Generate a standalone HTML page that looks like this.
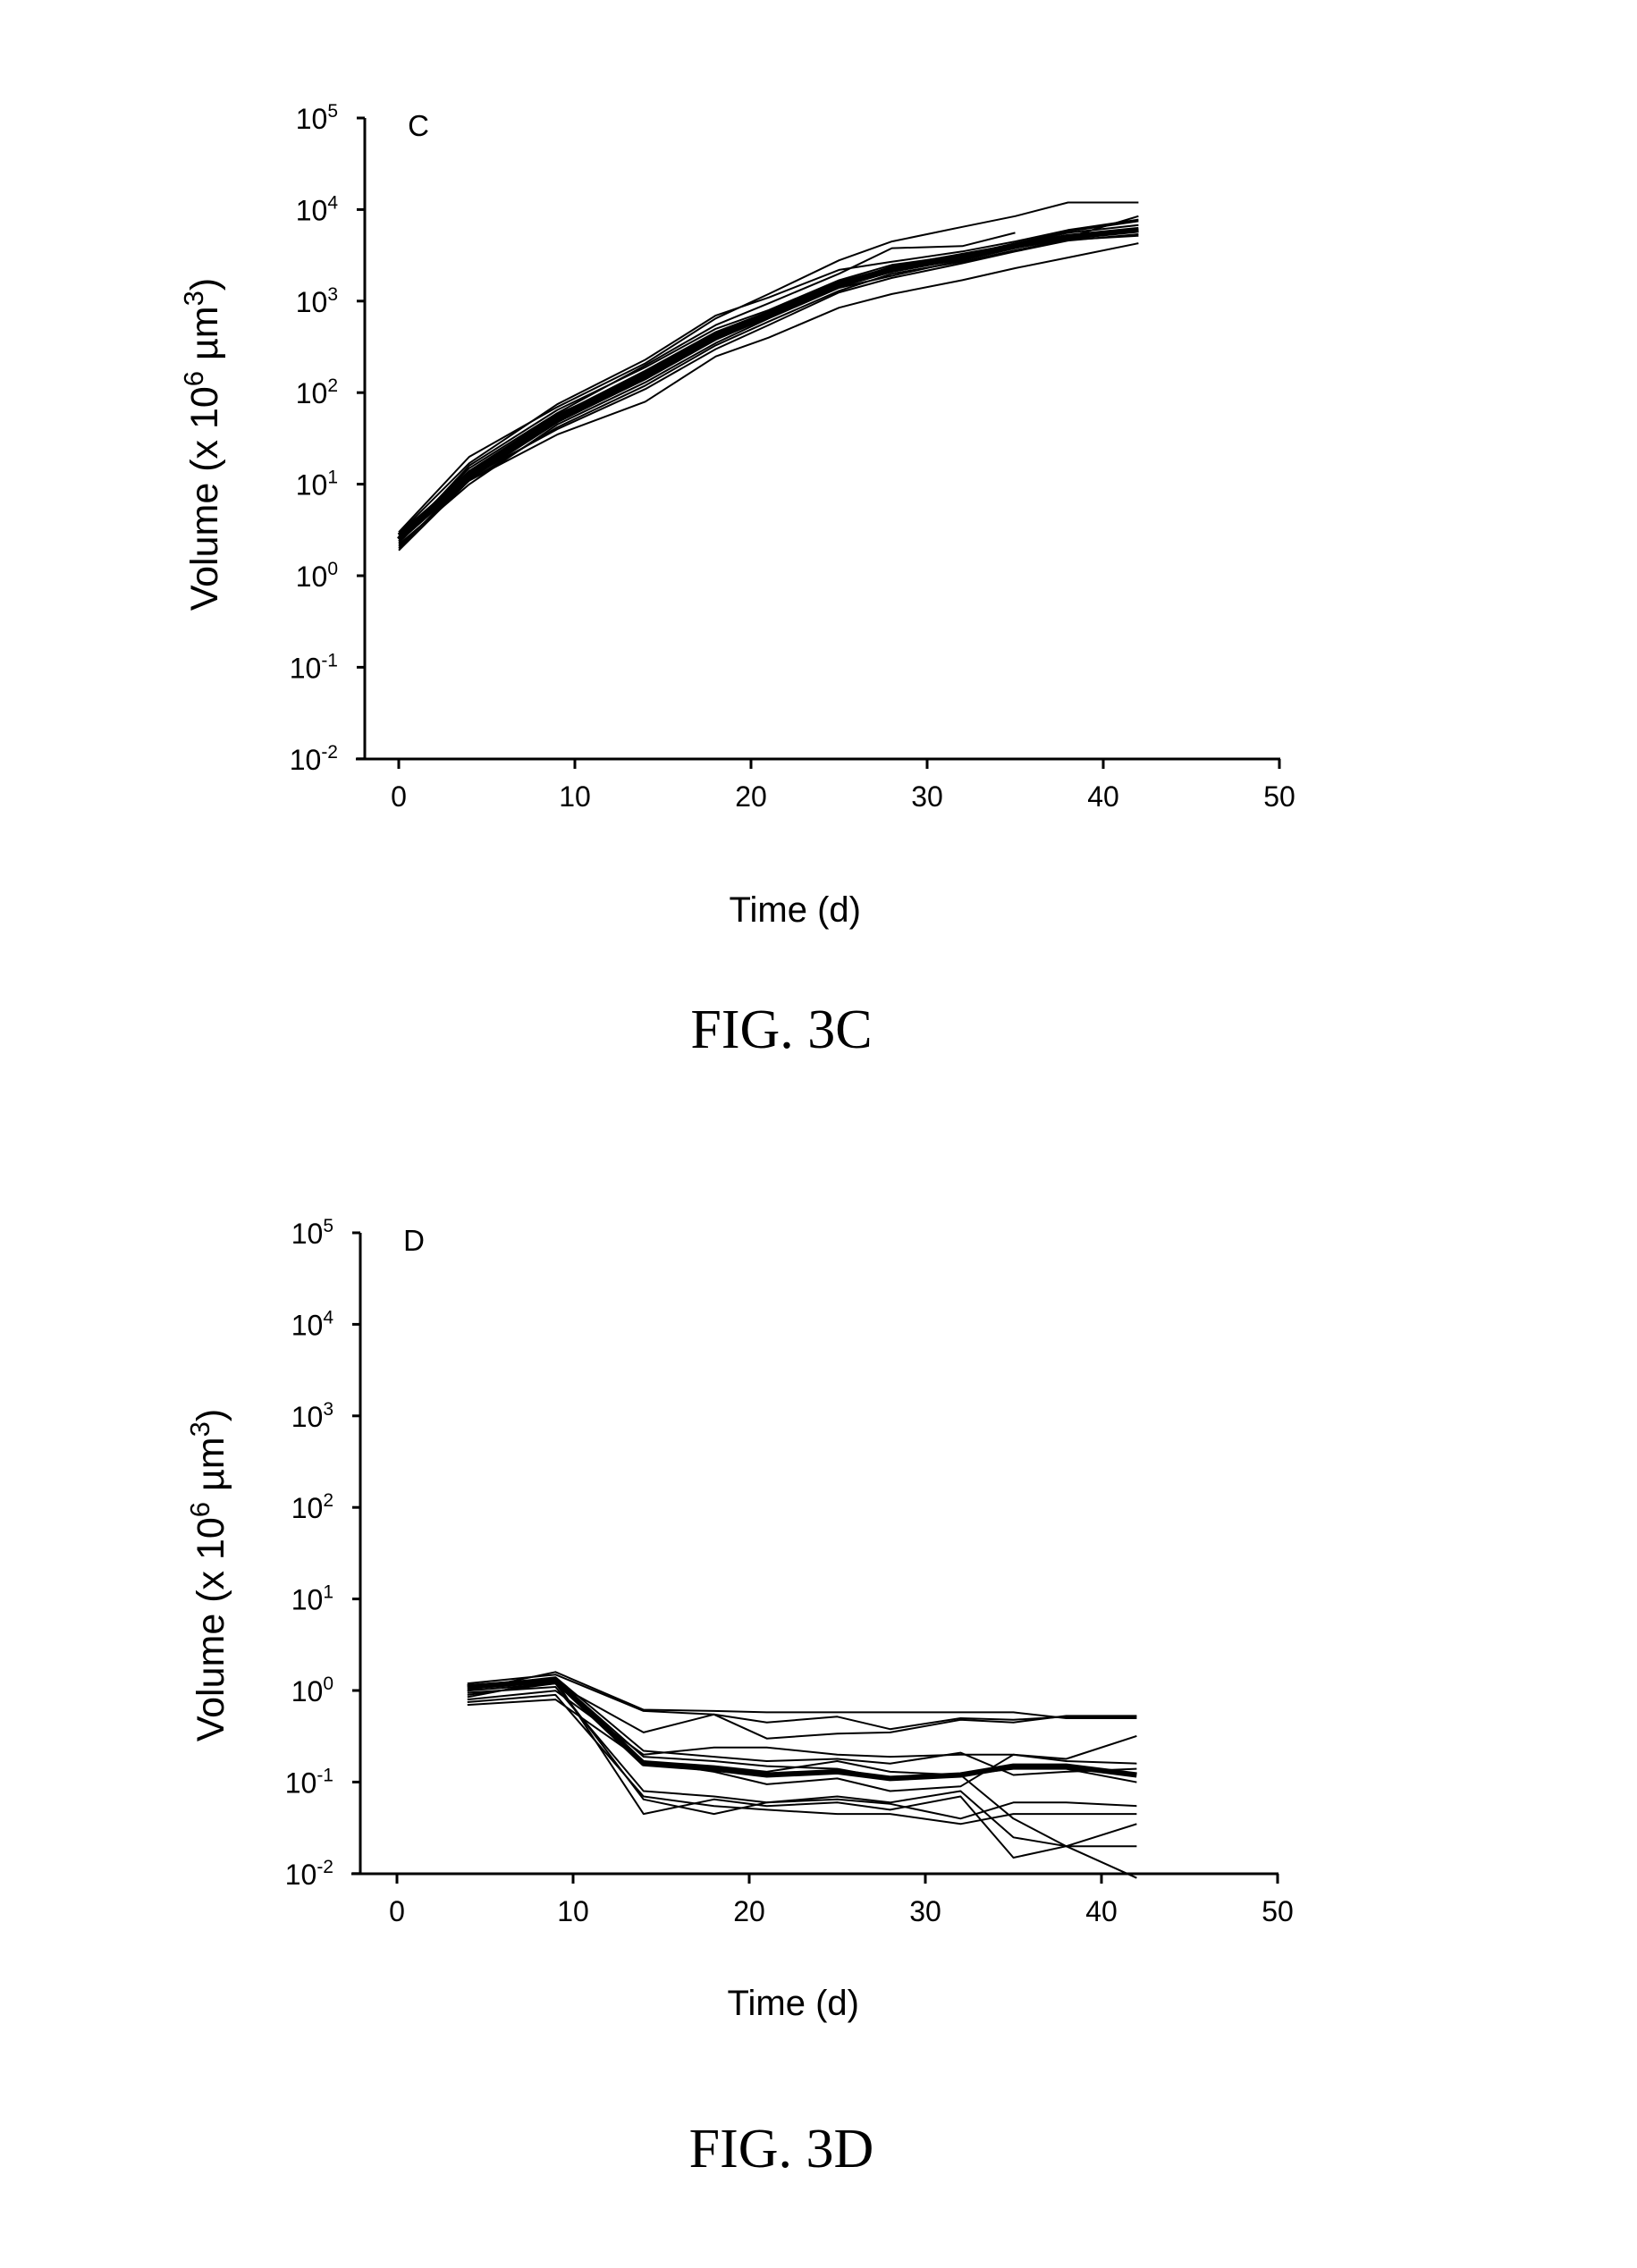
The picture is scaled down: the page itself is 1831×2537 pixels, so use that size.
<!DOCTYPE html>
<html><head><meta charset="utf-8"><style>
body{margin:0;background:#fff}
svg{display:block}
text{font-family:"Liberation Sans",Arial,sans-serif;fill:#000}
.serif{font-family:"Liberation Serif","Times New Roman",serif}
</style></head><body>
<svg id="s" width="1831" height="2537" viewBox="0 0 1831 2537" xmlns="http://www.w3.org/2000/svg">
<rect width="1831" height="2537" fill="#fff"/>
<g id="C"></g>
<g id="D"></g>
</svg>
<script>
const NS="http://www.w3.org/2000/svg";
function el(p,tag,attrs,txt){const e=document.createElementNS(NS,tag);for(const k in attrs)e.setAttribute(k,attrs[k]);if(txt!==undefined)e.textContent=txt;p.appendChild(e);return e;}
function chart(g,top,ax,x0,letter,series,ylx,yly,tly){
  const bot=top+717, dec=102.4, xs=19.7;
  const X=t=>x0+xs*t, Y=v=>bot-dec*(Math.log10(v)+2);
  el(g,'line',{x1:ax,y1:top,x2:ax,y2:bot,stroke:'#000','stroke-width':3});
  el(g,'line',{x1:ax-10,y1:bot,x2:X(50)+1,y2:bot,stroke:'#000','stroke-width':3});
  for(let i=0;i<=7;i++){const y=top+i*dec;el(g,'line',{x1:ax-9,y1:y,x2:ax,y2:y,stroke:'#000','stroke-width':3});
    const t=el(g,'text',{x:ax-30,y:y+12,'font-size':32,'text-anchor':'end'});
    t.appendChild(document.createTextNode('10'));
    el(t,'tspan',{dy:-13,'font-size':21},String(5-i));}
  for(let i=0;i<=5;i++){const x=X(i*10);el(g,'line',{x1:x,y1:bot,x2:x,y2:bot+11,stroke:'#000','stroke-width':3});
    el(g,'text',{x:x,y:bot+53,'font-size':32,'text-anchor':'middle'},String(i*10));}
  el(g,'text',{x:ax+60,y:top+20,'font-size':33,'text-anchor':'middle'},letter);
  const yl=el(g,'text',{transform:`translate(${ylx},${yly}) rotate(-90)`,'font-size':43,'text-anchor':'middle'});
  yl.appendChild(document.createTextNode('Volume (x 10'));
  el(yl,'tspan',{dy:-16,'font-size':31},'6');
  el(yl,'tspan',{dy:16},' \u00b5m');
  el(yl,'tspan',{dy:-16,'font-size':31},'3');
  el(yl,'tspan',{dy:16},')');
  el(g,'text',{x:X(22.5),y:tly,'font-size':40,'text-anchor':'middle'},'Time (d)');
  for(const s of series){
    const pts=s.v.map((v,i)=>X(s.t[i]).toFixed(1)+','+Y(v).toFixed(1)).join(' ');
    el(g,'polyline',{points:pts,fill:'none',stroke:'#000','stroke-width':s.w||2,'stroke-linejoin':'round'});
  }
}
const tC=[0,4,9,14,18,21,25,28,32,35,38,42];
const C=[
 {t:tC,v:[2.5,12,50,150,400,700,1500,2200,3000,4000,5000,6000],w:6},
 {t:tC,v:[2.8,13,55,170,450,750,1600,2300,3100,4100,5200,6200],w:4},
 {t:tC,v:[1.9,11,35,80,250,400,850,1200,1700,2300,3000,4300]},
 {t:tC,v:[3,20,70,210,650,1200,2800,4500,6500,8500,12000,12000]},
 {t:[0,4,9,14,18,21,25,28,32,35],v:[2.6,15,60,200,550,950,2000,3800,4000,5600]},
 {t:tC,v:[2.2,10,45,130,350,650,1400,1900,2800,3800,5000,8500]},
 {t:tC,v:[2.4,16,65,190,500,800,1700,2500,3200,4300,5800,7500]},
 {t:tC,v:[2.0,12,40,110,300,550,1250,1800,2600,3500,4600,5400]},
 {t:tC,v:[2.7,14,58,160,420,720,1550,2400,3300,4200,5600,6800]},
 {t:tC,v:[2.3,13,48,140,380,680,1450,2100,2900,3900,4800,5800]},
 {t:tC,v:[2.9,17,75,230,700,1100,2200,2700,3500,4500,6000,7800]},
 {t:tC,v:[2.1,11,42,120,330,600,1300,2000,2700,3600,4700,5200]}
];
const tD=[4,9,14,18,21,25,28,32,35,38,42];
const D=[
 {t:tD,v:[1.1,1.3,0.16,0.14,0.12,0.13,0.11,0.12,0.15,0.15,0.12],w:6},
 {t:tD,v:[1.2,1.5,0.6,0.55,0.45,0.52,0.38,0.5,0.48,0.52,0.52]},
 {t:tD,v:[1.0,1.6,0.62,0.6,0.58,0.58,0.58,0.58,0.58,0.5,0.5]},
 {t:tD,v:[0.9,1.2,0.35,0.55,0.3,0.34,0.35,0.48,0.45,0.53,0.53]},
 {t:tD,v:[0.8,1.0,0.2,0.24,0.24,0.2,0.19,0.2,0.2,0.17,0.16]},
 {t:tD,v:[1.1,1.4,0.22,0.19,0.17,0.18,0.16,0.21,0.12,0.13,0.14]},
 {t:tD,v:[0.7,0.8,0.17,0.13,0.095,0.11,0.08,0.09,0.2,0.18,0.32]},
 {t:tD,v:[0.95,1.1,0.08,0.07,0.06,0.07,0.06,0.08,0.025,0.02,0.02]},
 {t:tD,v:[0.85,1.3,0.045,0.065,0.055,0.06,0.05,0.07,0.015,0.02,0.035]},
 {t:tD,v:[1.0,1.2,0.065,0.045,0.06,0.065,0.058,0.04,0.06,0.06,0.055]},
 {t:tD,v:[0.75,0.9,0.07,0.055,0.05,0.045,0.045,0.035,0.045,0.045,0.045]},
 {t:tD,v:[1.05,1.25,0.17,0.15,0.13,0.17,0.13,0.12,0.04,0.02,0.009]},
 {t:tD,v:[1.15,1.35,0.19,0.17,0.15,0.14,0.11,0.12,0.14,0.14,0.1]}
];
chart(document.getElementById('C'),132,408,446,'C',C,243,497,1031);
chart(document.getElementById('D'),1379,403,444,'D',D,250,1762,2254);
const s=document.getElementById('s');
el(s,'text',{x:874,y:1172,'font-size':62,'text-anchor':'middle',class:'serif'},'FIG. 3C');
el(s,'text',{x:874,y:2424,'font-size':62,'text-anchor':'middle',class:'serif'},'FIG. 3D');
</script>
</body></html>
